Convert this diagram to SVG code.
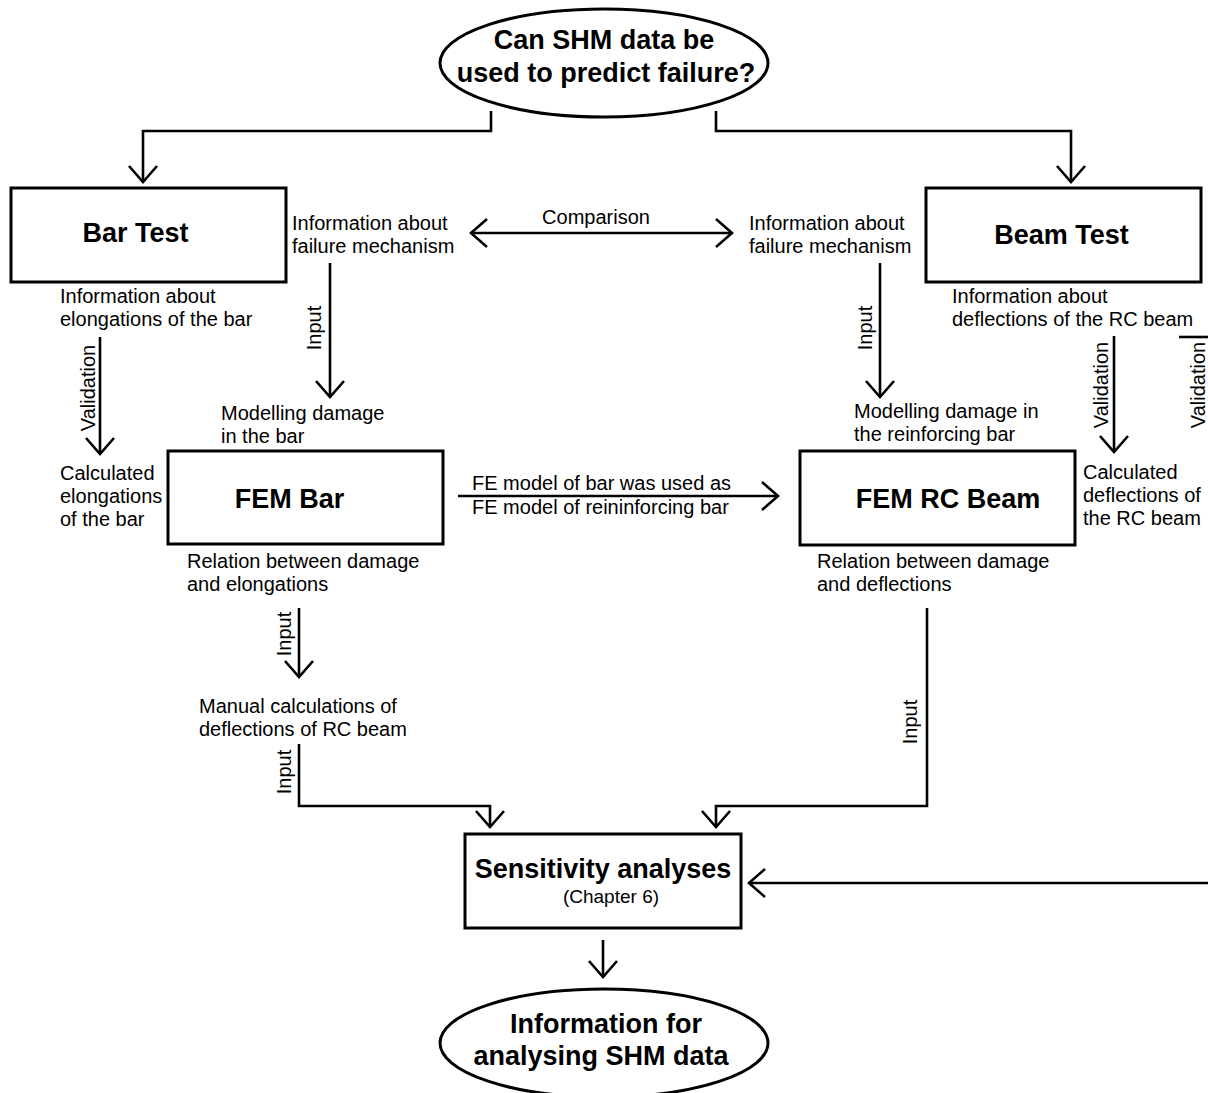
<svg xmlns="http://www.w3.org/2000/svg" width="1208" height="1093" viewBox="0 0 1208 1093">
  <style>
    .box { fill: #fff; stroke: #000; stroke-width: 3; }
    .title { font-family: "Liberation Sans", Arial, sans-serif; font-weight: bold; font-size: 27px; fill: #000; text-anchor: middle; }
    .lbl { font-family: "Liberation Sans", Arial, sans-serif; font-size: 20px; fill: #000; }
    .mid { text-anchor: middle; }
    .con { fill: none; stroke: #000; stroke-width: 2.6; marker-end: url(#arr); }
    .plain { fill: none; stroke: #000; stroke-width: 2.6; }
  </style>
  <defs>
    <marker id="arr" markerUnits="userSpaceOnUse" markerWidth="40" markerHeight="40" viewBox="-20 -20 40 40" refX="0" refY="0" orient="auto-start-reverse">
      <path d="M-16,-14 L0,0 L-16,14" fill="none" stroke="#000" stroke-width="2.6"/>
    </marker>
  </defs>
  <rect width="1208" height="1093" fill="#fff"/>

  <!-- connectors -->
  <g id="connectors">
    <path class="con" d="M491,111 V131 H143 V182"/>
    <path class="con" d="M716,111 V131 H1071 V182"/>
    <path class="con" d="M471,233 H732" marker-start="url(#arr)"/>
    <path class="con" d="M330,263 V397"/>
    <path class="con" d="M880,263 V397"/>
    <path class="con" d="M100,337 V454"/>
    <path class="con" d="M1114,336 V452"/>
    <path class="plain" d="M1179,337 H1208"/>
    <path class="con" d="M458,496 H778"/>
    <path class="con" d="M299,608 V677"/>
    <path class="con" d="M299,744 V806 H490 V827"/>
    <path class="con" d="M927,608 V806 H716 V827"/>
    <path class="con" d="M1208,883 H749"/>
    <path class="con" d="M603,940 V977"/>

    <text class="lbl mid" x="596" y="224">Comparison</text>
    <text class="lbl" x="472" y="490">FE model of bar was used as</text>
    <text class="lbl" x="472" y="514">FE model of reininforcing bar</text>
    <text class="lbl mid" transform="translate(95,388) rotate(-90)">Validation</text>
    <text class="lbl mid" transform="translate(321,328) rotate(-90)">Input</text>
    <text class="lbl mid" transform="translate(872,328) rotate(-90)">Input</text>
    <text class="lbl mid" transform="translate(1108,385) rotate(-90)">Validation</text>
    <text class="lbl mid" transform="translate(1205,385) rotate(-90)">Validation</text>
    <text class="lbl mid" transform="translate(291,634) rotate(-90)">Input</text>
    <text class="lbl mid" transform="translate(291,772) rotate(-90)">Input</text>
    <text class="lbl mid" transform="translate(917,722) rotate(-90)">Input</text>

    <text class="lbl" x="292" y="230">Information about</text>
    <text class="lbl" x="292" y="253">failure mechanism</text>
    <text class="lbl" x="749" y="230">Information about</text>
    <text class="lbl" x="749" y="253">failure mechanism</text>
    <text class="lbl" x="60" y="303">Information about</text>
    <text class="lbl" x="60" y="326">elongations of the bar</text>
    <text class="lbl" x="952" y="303">Information about</text>
    <text class="lbl" x="952" y="326">deflections of the RC beam</text>
    <text class="lbl" x="221" y="420">Modelling damage</text>
    <text class="lbl" x="221" y="443">in the bar</text>
    <text class="lbl" x="854" y="418">Modelling damage in</text>
    <text class="lbl" x="854" y="441">the reinforcing bar</text>
    <text class="lbl" x="60" y="480">Calculated</text>
    <text class="lbl" x="60" y="503">elongations</text>
    <text class="lbl" x="60" y="526">of the bar</text>
    <text class="lbl" x="1083" y="479">Calculated</text>
    <text class="lbl" x="1083" y="502">deflections of</text>
    <text class="lbl" x="1083" y="525">the RC beam</text>
    <text class="lbl" x="187" y="568">Relation between damage</text>
    <text class="lbl" x="187" y="591">and elongations</text>
    <text class="lbl" x="817" y="568">Relation between damage</text>
    <text class="lbl" x="817" y="591">and deflections</text>
    <text class="lbl" x="199" y="713">Manual calculations of</text>
    <text class="lbl" x="199" y="736">deflections of RC beam</text>
  </g>

  <!-- nodes -->
  <g id="question">
    <ellipse class="box" cx="604" cy="63" rx="164" ry="54"/>
    <text class="title" x="604" y="49">Can SHM data be</text>
    <text class="title" x="606" y="82">used to predict failure?</text>
  </g>
  <g id="bar-test">
    <rect class="box" x="11" y="188" width="275" height="94"/>
    <text class="title" x="135.5" y="242">Bar Test</text>
  </g>
  <g id="beam-test">
    <rect class="box" x="926" y="188" width="275" height="94"/>
    <text class="title" x="1061.5" y="244">Beam Test</text>
  </g>
  <g id="fem-bar">
    <rect class="box" x="168" y="451" width="275" height="93"/>
    <text class="title" x="289.5" y="508">FEM Bar</text>
  </g>
  <g id="fem-rc-beam">
    <rect class="box" x="800" y="451" width="275" height="94"/>
    <text class="title" x="948" y="508">FEM RC Beam</text>
  </g>
  <g id="sensitivity">
    <rect class="box" x="465" y="834" width="276" height="94"/>
    <text class="title" x="603" y="878">Sensitivity analyses</text>
    <text class="lbl mid" x="611" y="903" style="font-size:19px">(Chapter 6)</text>
  </g>
  <g id="information">
    <ellipse class="box" cx="604" cy="1043" rx="164" ry="54"/>
    <text class="title" x="606" y="1033">Information for</text>
    <text class="title" x="601" y="1065">analysing SHM data</text>
  </g>
</svg>
